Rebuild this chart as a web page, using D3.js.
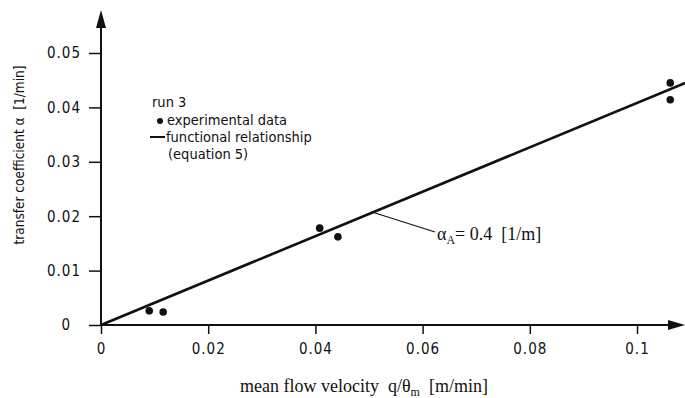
<!DOCTYPE html>
<html>
<head>
<meta charset="utf-8">
<script src="https://cdn.jsdelivr.net/npm/d3@7"></script>
<style>
  body { margin: 0; background: #fff; }
  svg { display: block; }
  .tick text { font-family: "DejaVu Sans Condensed", "Liberation Sans Narrow", sans-serif; font-size: 15px; fill: #111; letter-spacing: 1px; }
  .tick line { stroke: #111; stroke-width: 1.5; }
  .lbl { font-family: "DejaVu Sans Condensed", sans-serif; fill: #111; }
  .serif { font-family: "Liberation Serif", "DejaVu Serif", serif; fill: #111; }
</style>
</head>
<body>
<script>
// measured points, run 3
var velocity = [0.0090, 0.0116, 0.0408, 0.0442, 0.1062, 0.1062];
var alpha    = [0.0026, 0.0024, 0.0178, 0.0162, 0.0445, 0.0414];
// functional relationship (equation 5), end points
var fitX = [0, 0.109];
var fitY = [0, 0.0445];
var xTicks = [0, 0.02, 0.04, 0.06, 0.08, 0.1];
var yTicks = [0, 0.01, 0.02, 0.03, 0.04, 0.05];

var W = 685, H = 398;
var sp = "\u00a0\u00a0";
var x = d3.scaleLinear().domain([0, 0.1]).range([101, 637]);
var y = d3.scaleLinear().domain([0, 0.05]).range([325, 53]);

var svg = d3.select("body").append("svg")
    .attr("width", W).attr("height", H);

// axes
var xAxis = d3.axisBottom(x).tickValues(xTicks).tickSize(9).tickSizeOuter(0).tickPadding(9)
    .tickFormat(function(d) { return d === 0 ? "0" : d3.format("")(+d.toFixed(2)); });
var yAxis = d3.axisLeft(y).tickValues(yTicks).tickSize(12).tickSizeOuter(0).tickPadding(8)
    .tickFormat(function(d) { return d === 0 ? "0" : d.toFixed(2); });

var gx = svg.append("g").attr("transform", "translate(0," + y(0) + ")").call(xAxis);
gx.select(".domain").remove();
var gy = svg.append("g").attr("transform", "translate(" + x(0) + ",0)").call(yAxis);
gy.select(".domain").remove();
gy.selectAll(".tick text").filter(function(d) { return d === 0; }).attr("dx", -10);

// axis lines with arrow heads
svg.append("line").attr("x1", x(0)).attr("y1", y(0)).attr("x2", x(0)).attr("y2", 20)
    .attr("stroke", "#111").attr("stroke-width", 2);
svg.append("path").attr("d", "M" + x(0) + ",10 L" + (x(0) - 5) + ",28 L" + (x(0) + 5) + ",28 Z")
    .attr("fill", "#111");
svg.append("line").attr("x1", x(0)).attr("y1", y(0)).attr("x2", 675).attr("y2", y(0))
    .attr("stroke", "#111").attr("stroke-width", 2);
svg.append("path").attr("d", "M685," + y(0) + " L668," + (y(0) - 5) + " L668," + (y(0) + 5) + " Z")
    .attr("fill", "#111");

// fitted line
svg.append("line")
    .attr("x1", x(fitX[0])).attr("y1", y(fitY[0]))
    .attr("x2", x(fitX[1])).attr("y2", y(fitY[1]))
    .attr("stroke", "#111").attr("stroke-width", 2.6);

// data points
svg.selectAll("circle.pt")
    .data(velocity)
    .enter().append("circle")
        .attr("class", "pt")
        .attr("cx", function(d) { return x(d); })
        .attr("cy", function(d, i) { return y(alpha[i]); })
        .attr("r", 3.8)
        .attr("fill", "#111");

// annotation
svg.append("line").attr("x1", 372).attr("y1", 212).attr("x2", 435).attr("y2", 232)
    .attr("stroke", "#111").attr("stroke-width", 1.2);
var ann = svg.append("text").attr("class", "serif").attr("x", 437).attr("y", 240).style("font-size", "18px");
ann.append("tspan").text("α");
ann.append("tspan").attr("dy", 4).style("font-size", "12px").text("A");
ann.append("tspan").attr("dy", -4).text("= 0.4" + sp + "[1/m]");

// legend
var lg = svg.append("g").attr("class", "lbl").style("font-size", "14.5px");
lg.append("text").attr("x", 152).attr("y", 107).text("run 3");
lg.append("circle").attr("cx", 160).attr("cy", 121).attr("r", 3).attr("fill", "#111");
lg.append("text").attr("x", 167).attr("y", 125).text("experimental data");
lg.append("line").attr("x1", 150).attr("y1", 137).attr("x2", 165).attr("y2", 137)
    .attr("stroke", "#111").attr("stroke-width", 2);
lg.append("text").attr("x", 166).attr("y", 142).text("functional relationship");
lg.append("text").attr("x", 168).attr("y", 159).text("(equation 5)");

// axis titles
var xt = svg.append("text").attr("class", "serif").attr("x", 240).attr("y", 392).style("font-size", "18px");
xt.append("tspan").text("mean flow velocity" + sp + "q/θ");
xt.append("tspan").attr("dy", 4).style("font-size", "12px").text("m");
xt.append("tspan").attr("dy", -4).text(sp + "[m/min]");

svg.append("text").attr("class", "lbl")
    .attr("transform", "translate(24,155) rotate(-90)")
    .attr("text-anchor", "middle")
    .style("font-size", "13.5px")
    .text("transfer coefficient α" + sp + "[1/min]");
</script>
</body>
</html>
